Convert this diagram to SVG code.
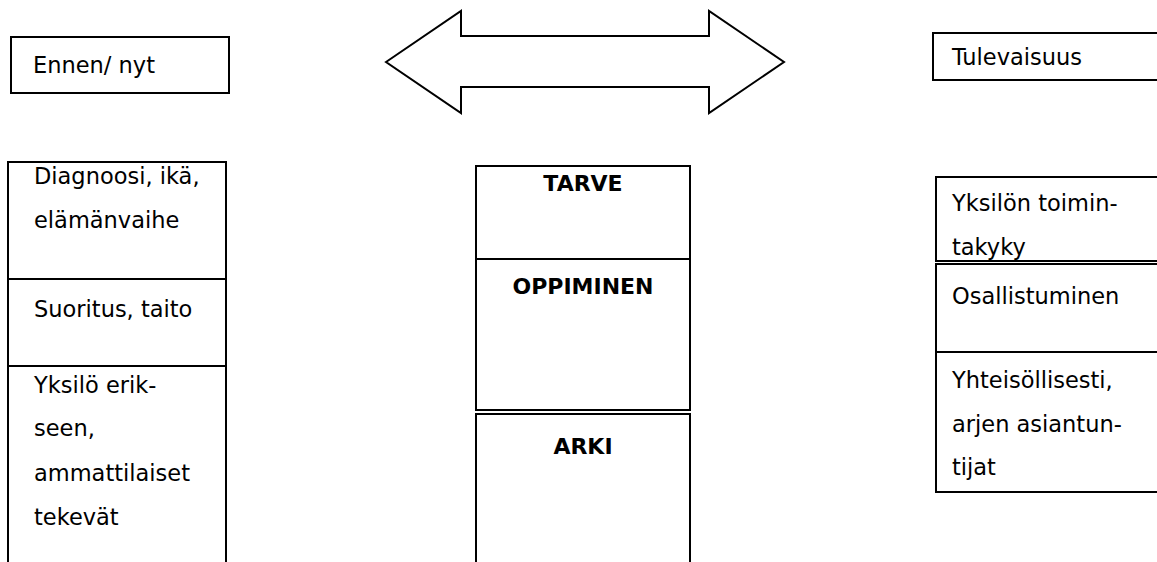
<svg xmlns="http://www.w3.org/2000/svg" width="1157" height="562" viewBox="0 0 1157 562">
  <style>
    .box { fill: #ffffff; stroke: #000000; stroke-width: 2; }
    .rule { stroke: #000000; stroke-width: 1.2; fill: none; }
    .t { font-family: "DejaVu Sans", Verdana, sans-serif; font-size: 22.5px; fill: #000000; }
    .b { font-family: "DejaVu Sans", Verdana, sans-serif; font-size: 22px; font-weight: bold; fill: #000000; text-anchor: middle; }
  </style>
  <rect width="1157" height="562" fill="#ffffff"/>

  <!-- double-headed arrow between past and future -->
  <g id="connectors">
    <polygon class="box" points="386,62 461,11 461,36 709,36 709,11 784,62 709,113 709,87 461,87 461,113"/>
  </g>

  <!-- past / present column -->
  <g id="ennen-header">
    <rect class="box" x="11" y="37" width="218" height="56"/>
    <text class="t" x="33" y="73">Ennen/ nyt</text>
  </g>
  <g id="ennen-diagnoosi">
    <rect class="box" x="8" y="162" width="218" height="117"/>
    <text class="t" x="34" y="184">Diagnoosi, ikä,</text>
    <text class="t" x="34" y="228">elämänvaihe</text>
  </g>
  <g id="ennen-suoritus">
    <rect class="box" x="8" y="279" width="218" height="87"/>
    <text class="t" x="34" y="317">Suoritus, taito</text>
  </g>
  <g id="ennen-yksilo">
    <rect class="box" x="8" y="366" width="218" height="240"/>
    <text class="t" x="34" y="393">Yksilö erik-</text>
    <text class="t" x="34" y="436">seen,</text>
    <text class="t" x="34" y="481">ammattilaiset</text>
    <text class="t" x="34" y="525">tekevät</text>
  </g>

  <!-- centre column -->
  <g id="tarve">
    <rect class="box" x="476" y="166" width="214" height="93"/>
    <text class="b" x="583" y="191">TARVE</text>
  </g>
  <g id="oppiminen">
    <rect class="box" x="476" y="259" width="214" height="151"/>
    <text class="b" x="583" y="294">OPPIMINEN</text>
  </g>
  <g id="arki">
    <rect class="box" x="476" y="414" width="214" height="200"/>
    <text class="b" x="583" y="454">ARKI</text>
  </g>

  <!-- future column -->
  <g id="tulevaisuus-header">
    <rect class="box" x="933" y="33" width="260" height="47"/>
    <text class="t" x="952" y="65">Tulevaisuus</text>
  </g>
  <g id="tulevaisuus-toimintakyky">
    <rect class="box" x="936" y="177" width="260" height="84"/>
    <text class="t" x="952" y="211">Yksilön toimin-</text>
    <text class="t" x="952" y="255">takyky</text>
  </g>
  <g id="tulevaisuus-osallistuminen">
    <rect class="box" x="936" y="264" width="260" height="88"/>
    <text class="t" x="952" y="304">Osallistuminen</text>
  </g>
  <g id="tulevaisuus-yhteisollisesti">
    <rect class="box" x="936" y="352" width="260" height="140"/>
    <text class="t" x="952" y="388">Yhteisöllisesti,</text>
    <text class="t" x="952" y="432">arjen asiantun-</text>
    <text class="t" x="952" y="475">tijat</text>
  </g>
</svg>
